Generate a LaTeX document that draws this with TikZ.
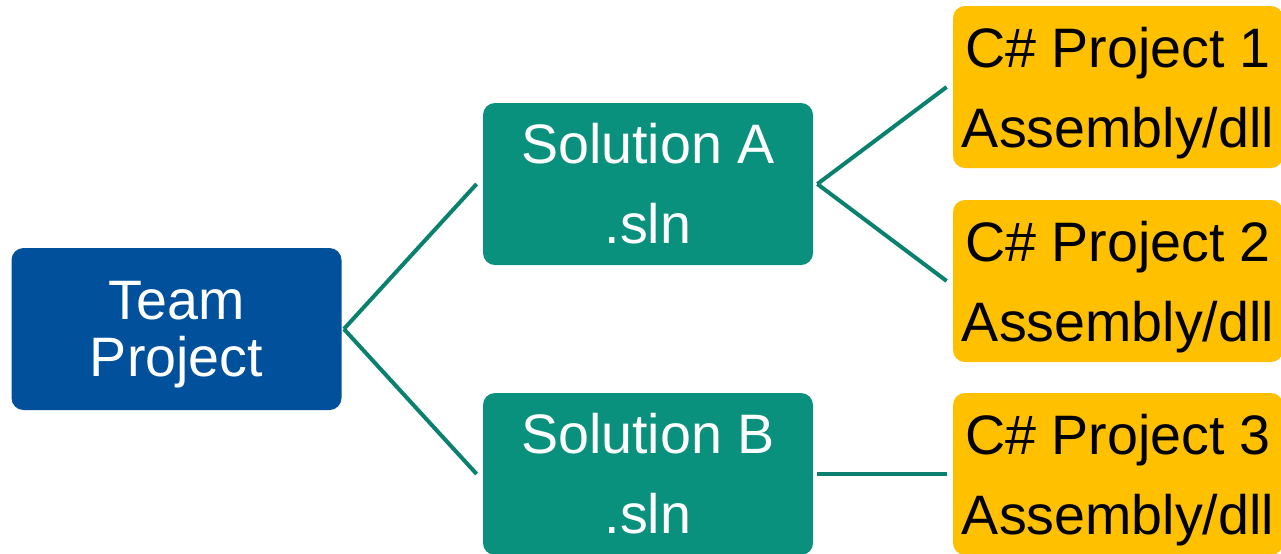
\documentclass[tikz,border=0pt]{standalone}
\usepackage{fontspec}
\setmainfont{Liberation Sans}
\usetikzlibrary{positioning}
\definecolor{teamblue}{RGB}{1,80,155}
\definecolor{slnteal}{RGB}{9,145,125}
\definecolor{projgold}{RGB}{255,192,0}
\definecolor{linkteal}{RGB}{10,128,110}

\begin{document}
\begin{tikzpicture}[x=0.5pt, y=-0.5pt,
    box/.style={rounded corners=6pt, minimum width=165pt, minimum height=81pt,
        inner sep=0pt, align=center, font=\fontsize{27.8}{40}\selectfont},
    team/.style={box, fill=teamblue, text=white, text depth=0pt,
        font=\fontsize{27.8}{28.5}\selectfont},
    sln/.style={box, fill=slnteal, text=white},
    proj/.style={box, fill=projgold, text=black, text depth=0pt},
    link/.style={draw=linkteal, line width=2pt}]
    \useasboundingbox (0,0) rectangle (1281,553);

    % Team project
    \node[team] (team) at (176.5, 329) {Team\\Project};

    % Solutions
    \node[sln] (slnA) at (648, 184) {Solution A\\.sln};
    \node[sln] (slnB) at (648, 474) {Solution B\\.sln};

    % Projects
    \node[proj] (proj1) at (1118, 87) {C\# Project 1\\Assembly/dll};
    \node[proj] (proj2) at (1118, 281) {C\# Project 2\\Assembly/dll};
    \node[proj] (proj3) at (1118, 474) {C\# Project 3\\Assembly/dll};

    % Links
    \draw[link] ([xshift=1pt]team.east) -- ([xshift=-3pt]slnA.west);
    \draw[link] ([xshift=1pt]team.east) -- ([xshift=-3pt]slnB.west);
    \draw[link] ([xshift=2pt]slnA.east) -- ([xshift=-3pt]proj1.west);
    \draw[link] ([xshift=2pt]slnA.east) -- ([xshift=-3pt]proj2.west);
    \draw[link] ([xshift=2pt]slnB.east) -- ([xshift=-3pt]proj3.west);
\end{tikzpicture}
\end{document}
